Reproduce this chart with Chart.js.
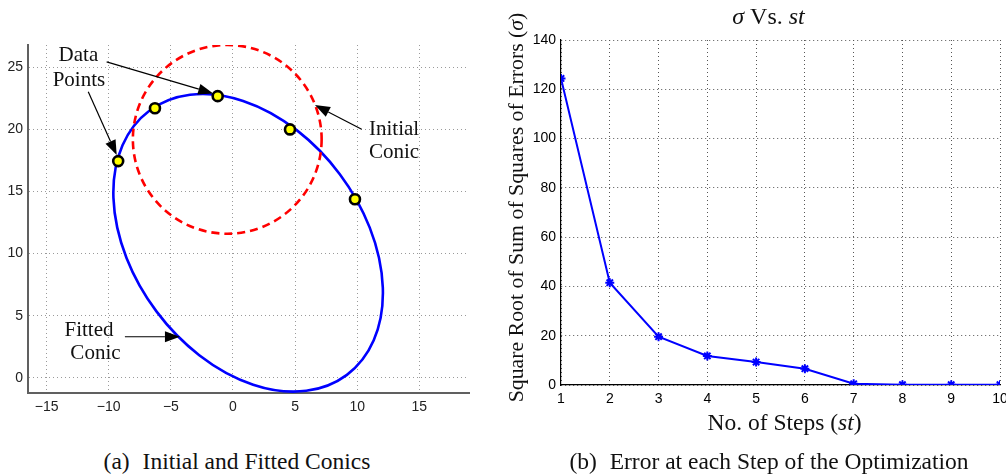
<!DOCTYPE html>
<html>
<head>
<meta charset="utf-8">
<script src="https://cdn.jsdelivr.net/npm/chart.js@4.4.1/dist/chart.umd.min.js"></script>
<style>
  html, body { margin: 0; padding: 0; background: #fff; overflow: hidden; }
  #wrap { position: relative; width: 1006px; height: 475px; overflow: hidden; }
  canvas { position: absolute; top: 0; }
  #conicChart { left: 0; }
  #errorChart { left: 495px; }
  .cap { position: absolute; top: 448px; font: 23.5px "Liberation Serif", serif; color: #111;
         white-space: nowrap; transform: translateX(-50%); }
  .cap span { margin-right: 7px; }
</style>
</head>
<body>
<div id="wrap">
  <canvas id="conicChart" width="500" height="440"></canvas>
  <canvas id="errorChart" width="525" height="440"></canvas>
  <div class="cap" style="left:237px"><span>(a)</span> Initial and Fitted Conics</div>
  <div class="cap" style="left:769px"><span>(b)</span> Error at each Step of the Optimization</div>
</div>
<script>
// --- left plot: data points and the two conics
const pointX = [-9.24, -6.28, -1.23, 4.59, 9.82];
const pointY = [17.45, 21.7, 22.68, 20.0, 14.37];
// fitted conic: centre, semi axes (major, minor), tilt of major axis in degrees
const fittedCentre = [1.22, 10.87];
const fittedAxes = [13.28, 9.22];
const fittedTilt = [-53.2];
// initial conic is a circle
const initialCentre = [-0.46, 19.2];
const initialRadius = [7.6];

// --- right plot: error per step
const steps = [1, 2, 3, 4, 5, 6, 7, 8, 9, 10];
const sigma = [124.4, 41.5, 19.6, 11.8, 9.3, 6.6, 0.5, 0.1, 0.1, 0.1];

// labels and arrows on the left plot, in data units
const notes = [
  { text: 'Data', x: -12.44, y: 25.92, align: 'center' },
  { text: 'Points', x: -12.40, y: 23.97, align: 'center' },
  { text: 'Initial', x: 10.95, y: 20.02, align: 'left' },
  { text: 'Conic', x: 10.95, y: 18.17, align: 'left' },
  { text: 'Fitted', x: -11.59, y: 3.84, align: 'center' },
  { text: 'Conic', x: -11.07, y: 1.99, align: 'center' }
];
const arrows = [
  [-10.17, 25.44, -1.59, 22.9],
  [-11.65, 23.03, -9.36, 17.93],
  [10.36, 20.02, 6.6, 21.96],
  [-8.7, 3.3, -4.27, 3.3]
];

const serif = '"Liberation Serif", "Times New Roman", serif';
const minus = v => (v < 0 ? '\u2212' + Math.abs(v) : '' + v);

function arrow(ctx, x1, y1, x2, y2) {
  const ang = Math.atan2(y2 - y1, x2 - x1);
  const len = 15, half = 5.5;
  const bx = x2 - len * Math.cos(ang), by = y2 - len * Math.sin(ang);
  ctx.beginPath();
  ctx.moveTo(x1, y1);
  ctx.lineTo(bx, by);
  ctx.stroke();
  ctx.beginPath();
  ctx.moveTo(x2, y2);
  ctx.lineTo(bx + half * Math.sin(ang), by - half * Math.cos(ang));
  ctx.lineTo(bx - half * Math.sin(ang), by + half * Math.cos(ang));
  ctx.closePath();
  ctx.fill();
}

const conicPlugin = {
  id: 'conics',
  beforeDatasetsDraw(chart) {
    const { ctx, chartArea: a, scales: { x, y } } = chart;
    const unit = (Math.abs(x.getPixelForValue(1) - x.getPixelForValue(0)) +
                  Math.abs(y.getPixelForValue(1) - y.getPixelForValue(0))) / 2;
    ctx.save();
    ctx.beginPath();
    ctx.rect(a.left, a.top, a.right - a.left, a.bottom - a.top);
    ctx.clip();
    // fitted conic
    ctx.beginPath();
    ctx.ellipse(x.getPixelForValue(fittedCentre[0]), y.getPixelForValue(fittedCentre[1]),
      fittedAxes[0] * unit, fittedAxes[1] * unit, -fittedTilt[0] * Math.PI / 180, 0, 2 * Math.PI);
    ctx.strokeStyle = '#0000ff';
    ctx.lineWidth = 2.6;
    ctx.stroke();
    // initial conic
    ctx.beginPath();
    ctx.arc(x.getPixelForValue(initialCentre[0]), y.getPixelForValue(initialCentre[1]),
      initialRadius[0] * unit, 0, 2 * Math.PI);
    ctx.strokeStyle = '#ff0000';
    ctx.setLineDash([8, 5]);
    ctx.stroke();
    ctx.restore();
  },
  afterDatasetsDraw(chart) {
    const { ctx, scales: { x, y } } = chart;
    ctx.save();
    ctx.strokeStyle = '#000';
    ctx.fillStyle = '#000';
    ctx.lineWidth = 1.2;
    arrows.forEach(r => arrow(ctx, x.getPixelForValue(r[0]), y.getPixelForValue(r[1]),
      x.getPixelForValue(r[2]), y.getPixelForValue(r[3])));
    ctx.font = '21px ' + serif;
    ctx.fillStyle = '#111';
    ctx.textBaseline = 'middle';
    notes.forEach(n => {
      ctx.textAlign = n.align;
      ctx.fillText(n.text, x.getPixelForValue(n.x), y.getPixelForValue(n.y));
    });
    ctx.restore();
  }
};

// text made of upright and italic pieces, centred on (cx, cy)
function runs(ctx, parts, cx, cy, size, rot) {
  ctx.save();
  ctx.translate(cx, cy);
  if (rot) ctx.rotate(rot);
  ctx.textBaseline = 'middle';
  ctx.textAlign = 'left';
  ctx.fillStyle = '#111';
  let total = 0;
  parts.forEach(p => {
    ctx.font = (p[1] ? 'italic ' : '') + size + 'px ' + serif;
    total += ctx.measureText(p[0]).width;
  });
  let px = -total / 2;
  parts.forEach(p => {
    ctx.font = (p[1] ? 'italic ' : '') + size + 'px ' + serif;
    ctx.fillText(p[0], px, 0);
    px += ctx.measureText(p[0]).width;
  });
  ctx.restore();
}

const errorTexts = {
  id: 'errorTexts',
  afterDraw(chart) {
    const { ctx, chartArea: a } = chart;
    const mid = (a.left + a.right) / 2;
    runs(ctx, [['\u03c3', 1], [' Vs. ', 0], ['st', 1]], mid - 12, 18, 24);
    runs(ctx, [['No. of Steps (', 0], ['st', 1], [')', 0]], mid + 4, 424, 23.5);
    runs(ctx, [['Square Root of Sum of Squares of Errors (', 0], ['\u03c3', 1], [')', 0]],
      22, (a.top + a.bottom) / 2 - 5, 21.8, -Math.PI / 2);
  }
};

new Chart(document.getElementById('conicChart'), {
  type: 'scatter',
  data: {
    datasets: [{
      data: pointX.map((v, i) => ({ x: v, y: pointY[i] })),
      pointRadius: 5,
      pointBorderWidth: 2.6,
      pointBorderColor: '#000',
      pointBackgroundColor: '#ffff00',
      showLine: false
    }]
  },
  options: {
    responsive: false,
    animation: false,
    layout: { padding: { top: 45, right: 31, left: 0, bottom: 0 } },
    plugins: { legend: { display: false }, tooltip: { enabled: false } },
    scales: {
      x: {
        type: 'linear', min: -16.5, max: 19,
        afterFit: s => { s.height = 47; },
        ticks: { stepSize: 5, includeBounds: false, padding: 6, color: '#222',
                 font: { family: 'Liberation Sans', size: 14 }, callback: minus },
        grid: { color: '#9a9a9a', lineWidth: 1, drawTicks: false },
        border: { color: '#606060', width: 2, dash: [1, 3] }
      },
      y: {
        type: 'linear', min: -1.23, max: 26.8,
        afterFit: s => { s.width = 28; },
        ticks: { stepSize: 5, includeBounds: false, padding: 5, color: '#222',
                 font: { family: 'Liberation Sans', size: 14 }, callback: minus },
        grid: { color: '#9a9a9a', lineWidth: 1, drawTicks: false },
        border: { color: '#606060', width: 2, dash: [1, 3] }
      }
    }
  },
  plugins: [conicPlugin]
});

new Chart(document.getElementById('errorChart'), {
  type: 'line',
  data: {
    datasets: [{
      data: steps.map((s, i) => ({ x: s, y: sigma[i] })),
      borderColor: '#0000ff',
      borderWidth: 2,
      tension: 0,
      pointStyle: 'star',
      pointRadius: 4.5,
      pointBorderWidth: 2,
      pointBorderColor: '#0000ff',
      pointBackgroundColor: '#0000ff'
    }]
  },
  options: {
    responsive: false,
    animation: false,
    layout: { padding: { top: 40, right: 20, left: 0, bottom: 0 } },
    plugins: { legend: { display: false }, tooltip: { enabled: false } },
    scales: {
      x: {
        type: 'linear', min: 1, max: 10,
        afterFit: s => { s.height = 55; },
        ticks: { stepSize: 1, padding: 6, color: '#000',
                 font: { family: 'Liberation Sans', size: 14 } },
        grid: { color: '#555', lineWidth: 1, drawTicks: false },
        border: { color: '#000', width: 1.2, dash: [1, 3] }
      },
      y: {
        type: 'linear', min: 0, max: 140,
        afterFit: s => { s.width = 66; },
        ticks: { stepSize: 20, padding: 5, color: '#000',
                 font: { family: 'Liberation Sans', size: 14 } },
        grid: { color: '#555', lineWidth: 1, drawTicks: false },
        border: { color: '#000', width: 1.2, dash: [1, 3] }
      }
    }
  },
  plugins: [errorTexts]
});
</script>
</body>
</html>
